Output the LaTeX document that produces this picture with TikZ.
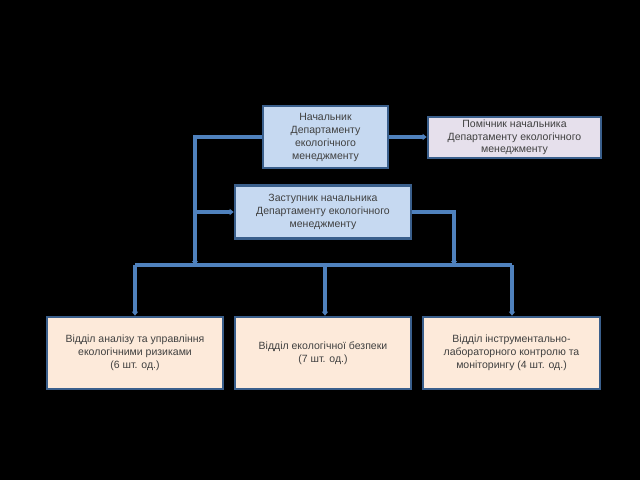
\documentclass[tikz,border=0pt]{standalone}
\usepackage{fontspec}
\setmainfont{Liberation Sans}
\usetikzlibrary{arrows.meta}
\definecolor{lineblue}{HTML}{4F81BD}
\definecolor{boxborder}{HTML}{3A5F8C}
\definecolor{boxblue}{HTML}{C6D9F1}
\definecolor{boxlav}{HTML}{E6E0EC}
\definecolor{boxpeach}{HTML}{FDEADA}
\definecolor{txt}{HTML}{404040}
\tikzset{
  orgbox/.style={draw=boxborder, line width=2.6pt, text=txt, align=center,
    font=\fontsize{10.5}{13}\selectfont, inner sep=0pt},
  conn/.style={draw=lineblue, line width=3.4pt},
  arr/.style={conn, -{Triangle[length=4pt,width=6pt]}},
}
\begin{document}
\begin{tikzpicture}[x=1pt,y=-1pt]
\fill[black] (0,0) rectangle (640,480);
\useasboundingbox (0,0) rectangle (640,480);
% boxes
\node[orgbox, fill=boxblue, minimum width=125pt, minimum height=62pt] (head) at (325.5,137)
  {Начальник\\Департаменту\\екологічного\\менеджменту};
\node[orgbox, fill=boxlav, minimum width=173pt, minimum height=41pt,
  font=\fontsize{10.5}{12.5}\selectfont] (asst) at (514.5,137.5)
  {Помічник начальника\\Департаменту екологічного\\менеджменту};
\node[orgbox, fill=boxblue, minimum width=176pt, minimum height=53pt] (dep) at (323,212)
  {Заступник начальника\\Департаменту екологічного\\менеджменту};
\node[orgbox, fill=boxpeach, minimum width=176pt, minimum height=72pt] (b1) at (135,353)
  {Відділ аналізу та управління\\екологічними ризиками\\(6 шт. од.)};
\node[orgbox, fill=boxpeach, minimum width=176pt, minimum height=72pt] (b2) at (323,353)
  {Відділ екологічної безпеки\\(7 шт. од.)};
\node[orgbox, fill=boxpeach, minimum width=177pt, minimum height=72pt] (b3) at (511.5,353)
  {Відділ інструментально-\\лабораторного контролю та\\моніторингу (4 шт. од.)};
% coordinates
\coordinate (lt) at (195,137);
\coordinate (lm) at (195,212);
\coordinate (lb) at (195,265);
\coordinate (rt) at (454,212);
\coordinate (rb) at (454,265);
\coordinate (bl) at (135,265);
\coordinate (bm) at (325,265);
\coordinate (br) at (512,265);
% connectors
\draw[arr] (head.east) -- (asst.west |- head.east);
\draw[arr] (head.west) -- (lt) -- (lb);
\draw[arr] (lm) -- (dep.west);
\draw[arr] (dep.east) -- (rt) -- (rb);
\draw[conn] (bl) -- (br);
\draw[arr] (bl) -- (b1.north -| bl);
\draw[arr] (bm) -- (b2.north -| bm);
\draw[arr] (br) -- (b3.north -| br);
\end{tikzpicture}
\end{document}
